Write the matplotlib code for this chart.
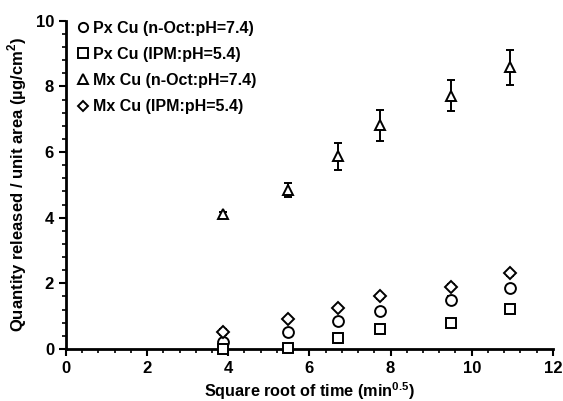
import numpy as np
from matplotlib import pyplot as plt
from matplotlib.ticker import MultipleLocator

plt.rcParams['font.family'] = ['Liberation Sans', 'DejaVu Sans']
plt.rcParams['font.weight'] = 'bold'
plt.rcParams['mathtext.fontset'] = 'custom'
plt.rcParams['mathtext.rm'] = 'Liberation Sans:bold'
plt.rcParams['mathtext.bf'] = 'Liberation Sans:bold'

# sqrt of sampling times (min^0.5)
sqrtTime = [3.87, 5.48, 6.71, 7.75, 9.49, 10.95]

pxOct = [0.20, 0.52, 0.86, 1.14, 1.50, 1.85]
pxOctErr = [0.05, 0.05, 0.06, 0.08, 0.10, 0.10]
pxIpm = [0.00, 0.03, 0.32, 0.60, 0.80, 1.23]
pxIpmErr = [0.02, 0.03, 0.15, 0.06, 0.08, 0.08]
mxOct = [4.10, 4.85, 5.87, 6.82, 7.72, 8.58]
mxOctErr = [0.08, 0.22, 0.42, 0.47, 0.48, 0.53]
mxIpm = [0.52, 0.91, 1.25, 1.60, 1.90, 2.30]
mxIpmErr = [0.10, 0.06, 0.07, 0.07, 0.07, 0.07]

series = [
    (pxOct, pxOctErr, 'o', 'Px Cu (n-Oct:pH=7.4)'),
    (pxIpm, pxIpmErr, 's', 'Px Cu (IPM:pH=5.4)'),
    (mxOct, mxOctErr, '^', 'Mx Cu (n-Oct:pH=7.4)'),
    (mxIpm, mxIpmErr, 'D', 'Mx Cu (IPM:pH=5.4)'),
]

fig = plt.figure(figsize=(5.63, 4.01), dpi=100)
ax = fig.add_axes([0.117, 0.130, 0.865, 0.818])

handles = []
for ys, err, mk, lab in series:
    ms = 6.5 if mk == 'D' else 7.8
    cont = ax.errorbar(sqrtTime, ys, yerr=err, fmt=mk, mfc='white', mec='black',
                       mew=1.4, ms=ms, ecolor='black', elinewidth=1.4, capsize=3,
                       capthick=1.4, label=lab, clip_on=False, zorder=3)
    handles.append(cont[0])

ax.set_xlim(0, 12)
ax.set_ylim(0, 10)
ax.xaxis.set_major_locator(MultipleLocator(2))
ax.yaxis.set_major_locator(MultipleLocator(2))
ax.xaxis.set_minor_locator(MultipleLocator(0.4))
ax.yaxis.set_minor_locator(MultipleLocator(0.4))

ax.spines['right'].set_visible(False)
ax.spines['top'].set_visible(False)
ax.spines['left'].set_linewidth(2)
ax.spines['bottom'].set_linewidth(2)
ax.tick_params(which='major', direction='out', length=5, width=1.5, labelsize=12)
ax.tick_params(which='minor', direction='out', length=3, width=1.2)

ax.set_xlabel('Square root of time (min$^{0.5}$)', fontsize=11.7, fontweight='bold', labelpad=3)
ax.set_ylabel('Quantity released / unit area (µg/cm$^{2}$)', fontsize=12, fontweight='bold', labelpad=5)

ax.legend(handles, [s[3] for s in series], loc='upper left', frameon=False,
          handletextpad=0.1, handlelength=1.0, borderaxespad=0.2, markerscale=0.85,
          labelspacing=0.7, fontsize=11.5, bbox_to_anchor=(0.0, 1.03))

fig.savefig('out.png', dpi=100)
